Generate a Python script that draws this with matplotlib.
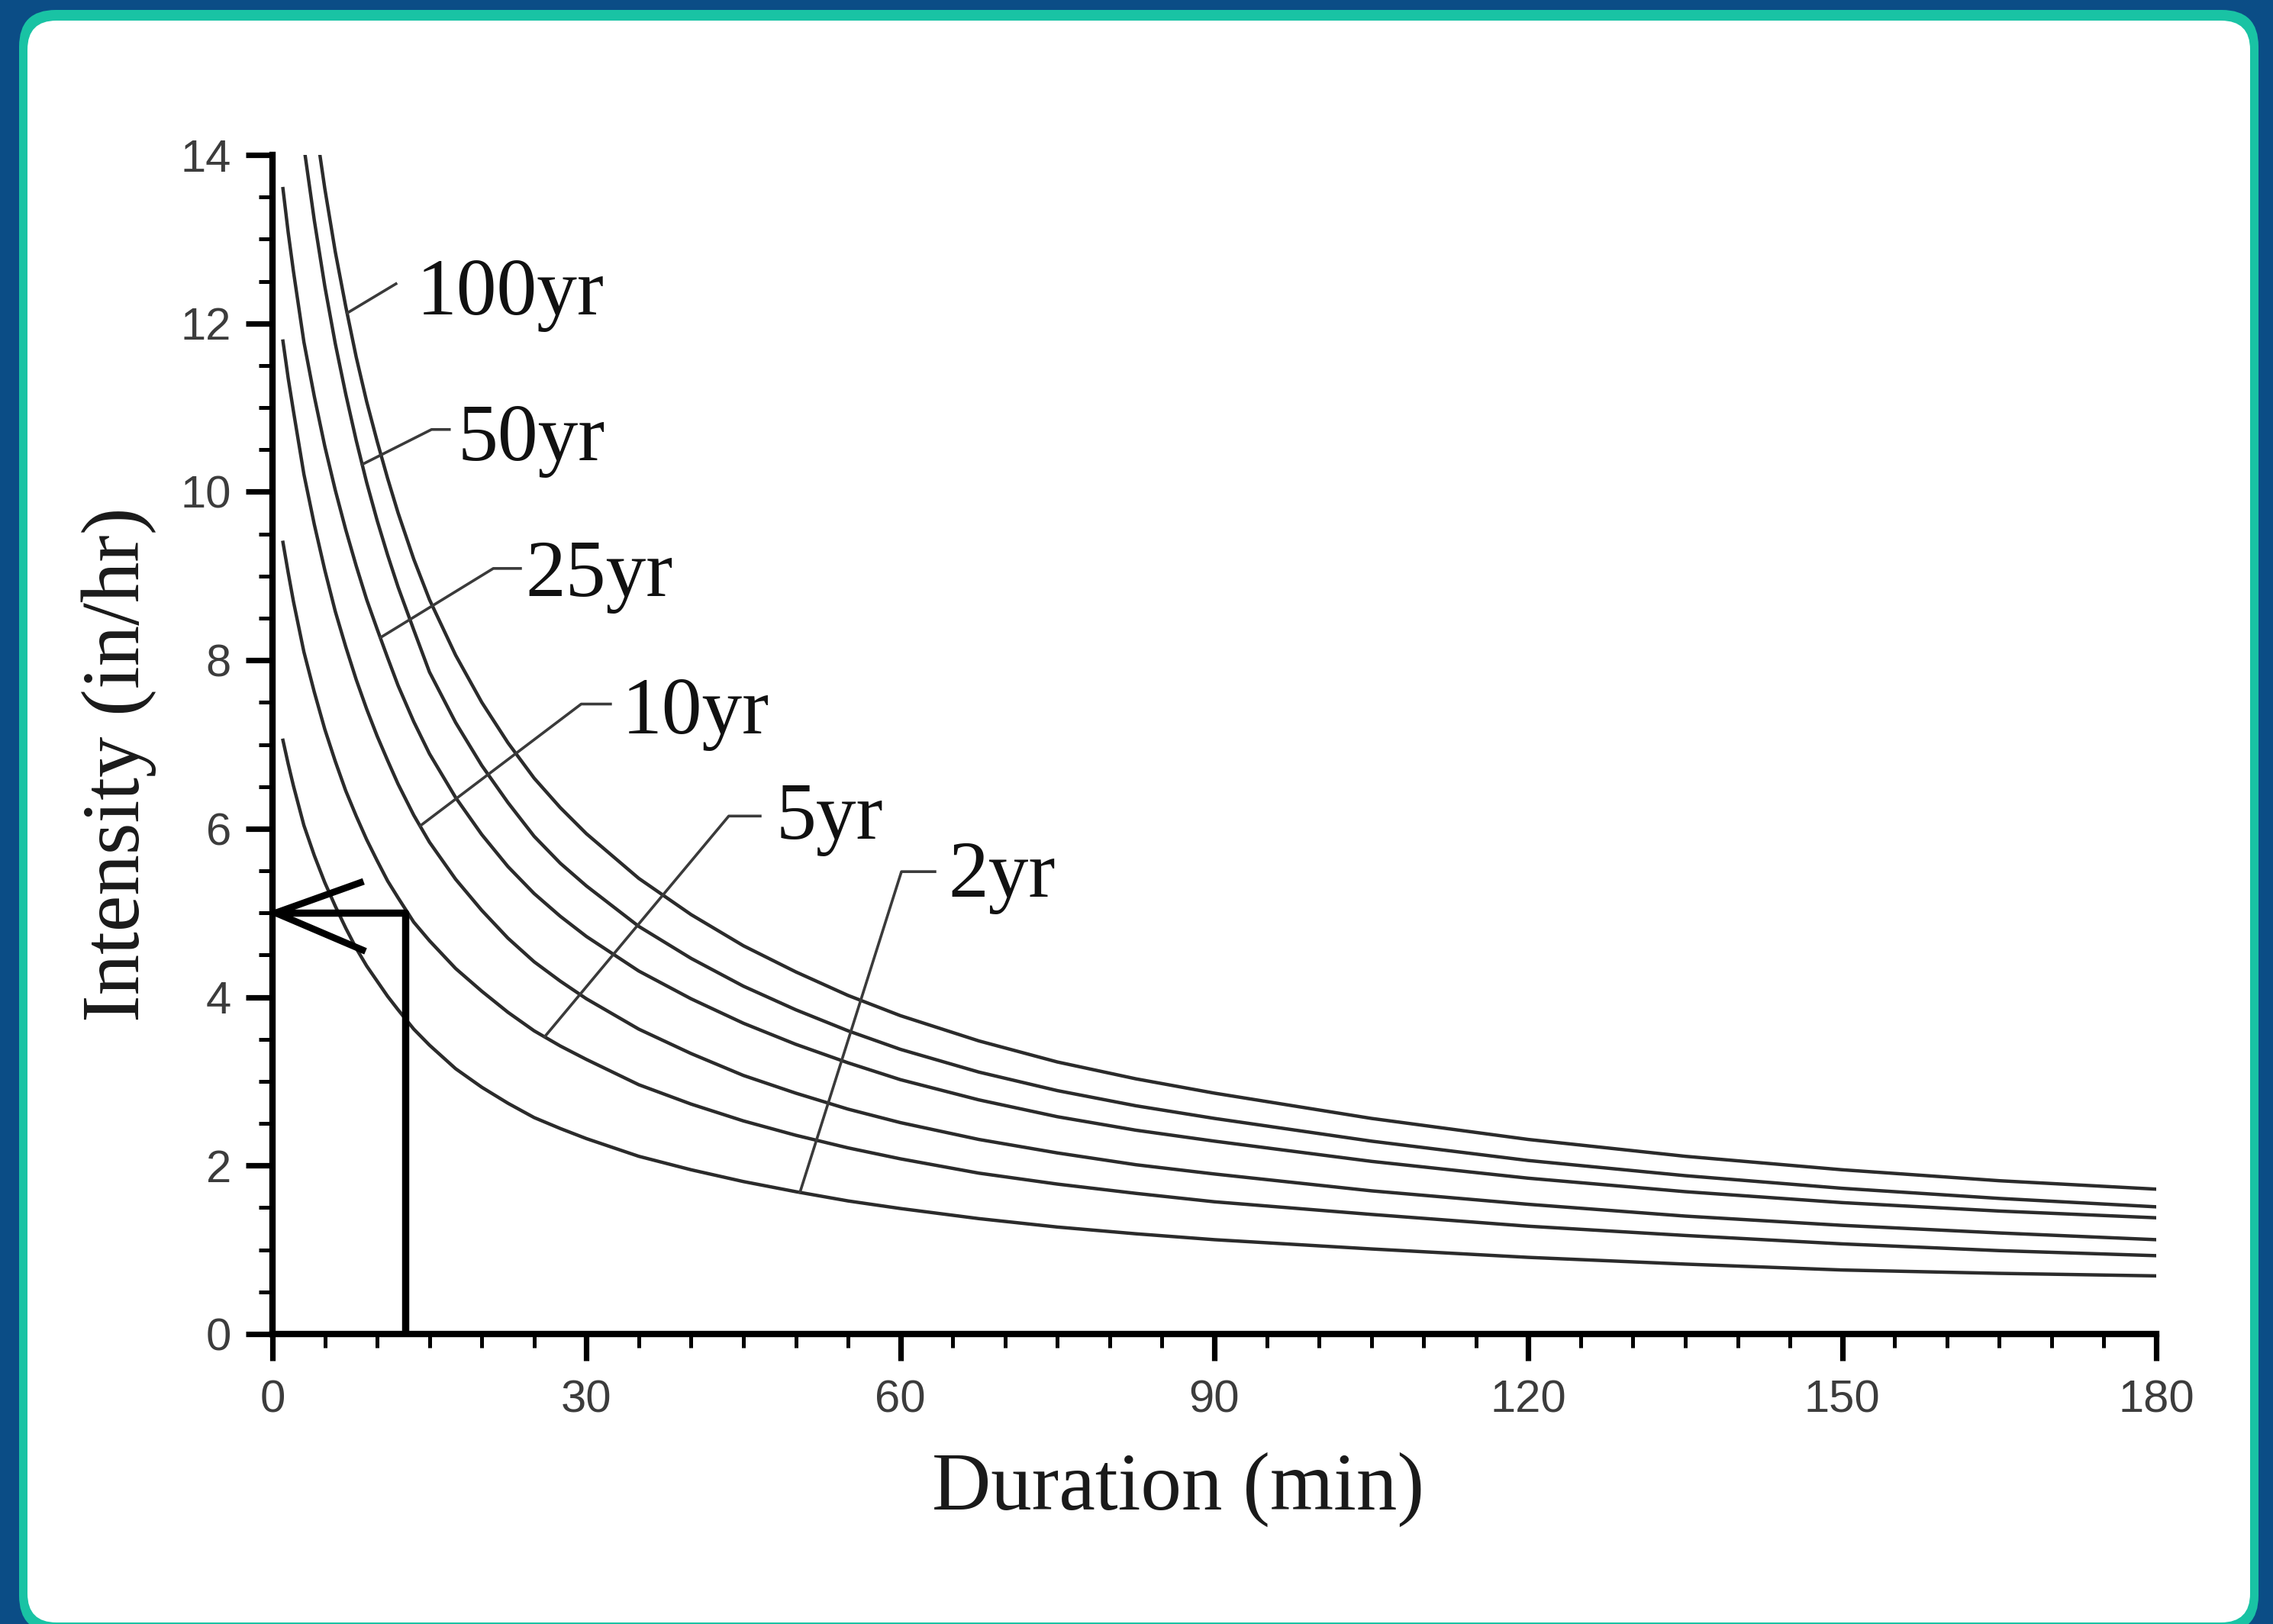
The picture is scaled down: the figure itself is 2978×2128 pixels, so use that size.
import numpy as np
import matplotlib
matplotlib.use("Agg")
import matplotlib.pyplot as plt
from matplotlib.patches import FancyBboxPatch
from matplotlib.ticker import MultipleLocator

# Intensity-duration-frequency curves, values (in/hr)
durations = [1, 1.5, 2, 3, 4, 5, 6, 7, 8, 9, 10, 11, 12, 13.5, 15, 17.5, 20, 22.5,
             25, 27.5, 30, 35, 40, 45, 50, 55, 60, 67.5, 75, 82.5, 90, 105, 120,
             135, 150, 165, 180]
i_2yr = [7.05, 6.77, 6.51, 6.04, 5.68, 5.36, 5.08, 4.82, 4.58, 4.37, 4.19, 4.01,
         3.85, 3.62, 3.43, 3.15, 2.93, 2.74, 2.57, 2.44, 2.32, 2.11, 1.95, 1.81,
         1.69, 1.58, 1.49, 1.37, 1.27, 1.19, 1.12, 1.01, 0.91, 0.83, 0.76, 0.72, 0.69]
i_5yr = [9.40, 9.04, 8.70, 8.10, 7.62, 7.18, 6.80, 6.45, 6.15, 5.87, 5.62, 5.38,
         5.18, 4.89, 4.67, 4.34, 4.07, 3.82, 3.60, 3.42, 3.26, 2.96, 2.73, 2.53,
         2.36, 2.21, 2.08, 1.91, 1.78, 1.67, 1.57, 1.42, 1.28, 1.17, 1.07, 0.99, 0.93]
i_10yr = [11.79, 11.35, 10.96, 10.21, 9.61, 9.07, 8.58, 8.16, 7.77, 7.42, 7.10,
          6.81, 6.53, 6.16, 5.84, 5.40, 5.03, 4.70, 4.42, 4.19, 3.98, 3.62, 3.33,
          3.07, 2.86, 2.67, 2.51, 2.31, 2.15, 2.01, 1.90, 1.70, 1.54, 1.40, 1.29,
          1.20, 1.12]
i_25yr = [13.6, 13.08, 12.62, 11.78, 11.13, 10.54, 10.02, 9.55, 9.12, 8.72, 8.37,
          8.03, 7.70, 7.27, 6.89, 6.37, 5.93, 5.55, 5.23, 4.96, 4.72, 4.31, 3.98,
          3.69, 3.44, 3.22, 3.02, 2.78, 2.58, 2.42, 2.29, 2.05, 1.85, 1.69, 1.56,
          1.46, 1.38]
i_50yr = [16.45, 15.8, 15.2, 14.1, 13.22, 12.44, 11.76, 11.16, 10.61, 10.11, 9.66,
          9.25, 8.87, 8.36, 7.86, 7.26, 6.75, 6.31, 5.91, 5.59, 5.32, 4.84, 4.46,
          4.13, 3.85, 3.60, 3.38, 3.11, 2.89, 2.71, 2.56, 2.29, 2.06, 1.88, 1.73,
          1.61, 1.51]
i_100yr = [18.0, 17.28, 16.6, 15.4, 14.45, 13.6, 12.85, 12.2, 11.6, 11.07, 10.6,
           10.16, 9.75, 9.2, 8.72, 8.06, 7.5, 7.02, 6.6, 6.25, 5.94, 5.41, 4.98,
           4.61, 4.3, 4.02, 3.78, 3.48, 3.23, 3.03, 2.86, 2.56, 2.31, 2.11, 1.95,
           1.82, 1.72]
series = [i_2yr, i_5yr, i_10yr, i_25yr, i_50yr, i_100yr]
labels = ["2yr", "5yr", "10yr", "25yr", "50yr", "100yr"]

# example read-off: duration -> intensity
read_duration = 12.7
read_intensity = 5.0

# label leaders: duration of the foot on the curve, elbow, end of flat part, text spot
leader_foot = [50.4, 26.0, 14.1, 10.3, 8.57, 7.13]
leader_elbow = [(60.1, 5.49), (43.6, 6.15), (29.5, 7.48), (21.1, 9.09), (15.2, 10.74), (11.8, 12.47)]
leader_end_x = [63.3, 46.6, 32.3, 23.7, 16.9, 11.8]
label_xy = [(64.6, 5.19), (48.1, 5.88), (33.4, 7.13), (24.2, 8.76), (17.7, 10.38), (13.8, 12.11)]

serif = ["Liberation Serif", "DejaVu Serif"]
narrow = ["Liberation Sans Narrow", "Liberation Sans", "DejaVu Sans"]

fig = plt.figure(figsize=(14.89, 10.64), dpi=200)
fig.patch.set_facecolor("#0b4d86")

# card background
bg = fig.add_axes([0, 0, 1, 1], zorder=0)
bg.set_xlim(0, 2978)
bg.set_ylim(2128, 0)
bg.axis("off")
bg.add_patch(FancyBboxPatch((25, 13), 2934, 2126, boxstyle="round,pad=0,rounding_size=48",
                            fc="#19c3a4", ec="none"))
bg.add_patch(FancyBboxPatch((36, 27), 2912, 2099, boxstyle="round,pad=0,rounding_size=38",
                            fc="white", ec="none"))

ax = fig.add_axes([0.11988, 0.17857, 0.82874, 0.72603], zorder=1)
ax.set_facecolor("none")

for vals in series:
    ax.plot(durations, vals, color="#2b2b2b", lw=1.6, solid_joinstyle="round")

# leaders and labels
for i, lab in enumerate(labels):
    fy = np.interp(leader_foot[i], durations, series[i])
    ex, ey = leader_elbow[i]
    ax.plot([leader_foot[i], ex, leader_end_x[i]], [fy, ey, ey], color="#3a3a3a", lw=1.3)
    ax.text(label_xy[i][0], label_xy[i][1], lab, fontfamily=serif, fontsize=38,
            color="#111111", ha="left", va="baseline")

# read-off box and arrow
ax.plot([read_duration, read_duration, 0.3], [0, read_intensity, read_intensity],
        color="black", lw=3.4, solid_capstyle="butt", clip_on=False)
ax.plot([8.4, 0.3, 8.6], [read_intensity + 0.36, read_intensity, read_intensity - 0.44],
        color="black", lw=3.2, solid_joinstyle="miter", clip_on=False)

ax.set_xlim(0, 180)
ax.set_ylim(0, 14)
ax.set_xticks(range(0, 181, 30))
ax.set_yticks(range(0, 15, 2))
ax.xaxis.set_minor_locator(MultipleLocator(5))
ax.yaxis.set_minor_locator(MultipleLocator(0.5))

for side in ["top", "right"]:
    ax.spines[side].set_visible(False)
for side in ["left", "bottom"]:
    ax.spines[side].set_linewidth(3.0)
    ax.spines[side].set_capstyle("projecting")

ax.tick_params(which="major", direction="out", length=12.5, width=2.6, color="black",
               pad=7, labelsize=21.5, labelcolor="#3c3c3c")
ax.tick_params(which="minor", direction="out", length=6.5, width=1.8, color="black")
for lbl in ax.get_xticklabels() + ax.get_yticklabels():
    lbl.set_fontfamily(narrow)
ax.tick_params(axis="x", which="major", pad=9)

ax.set_xlabel("Duration (min)", fontfamily=serif, fontsize=38.5, color="#1a1a1a")
ax.xaxis.set_label_coords(0.4806, -0.132)
ax.xaxis.label.set_va("center")
ax.set_ylabel("Intensity (in/hr)", fontfamily=serif, fontsize=38.5, color="#1a1a1a")
ax.yaxis.set_label_coords(-0.0814, 0.483)
ax.yaxis.label.set_va("center")

fig.savefig("out.png", dpi=200, facecolor=fig.get_facecolor())
